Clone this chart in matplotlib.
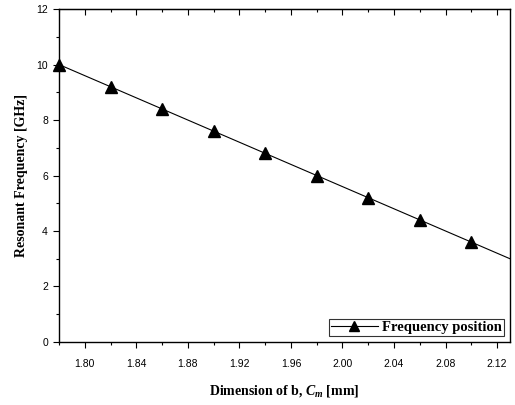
import numpy as np
import matplotlib
matplotlib.use("Agg")
import matplotlib.pyplot as plt
from matplotlib.ticker import MultipleLocator

# data
dim_b = [1.78, 1.82, 1.86, 1.90, 1.94, 1.98, 2.02, 2.06, 2.10]
freq = [10.0, 9.2, 8.4, 7.6, 6.8, 6.0, 5.2, 4.4, 3.6]
xticks = [1.80, 1.84, 1.88, 1.92, 1.96, 2.00, 2.04, 2.08, 2.12]

plt.rcParams["mathtext.fontset"] = "custom"
plt.rcParams["mathtext.it"] = "Liberation Serif:italic:bold"
plt.rcParams["mathtext.rm"] = "Liberation Serif:bold"

fig = plt.figure(figsize=(5.15, 4.05), dpi=100)
ax = fig.add_axes([0.1146, 0.1556, 0.8757, 0.822])

xlim = (1.78, 2.13)
# linear fit drawn across the axis
k, b = np.polyfit(dim_b, freq, 1)
xs = np.array(xlim)
ax.plot(xs, k * xs + b, color="black", lw=0.8)
ax.plot(dim_b, freq, linestyle="none", marker="^", color="black", ms=8, clip_on=False)
ax.plot([], [], color="black", lw=0.8, marker="^", ms=7, label="Frequency position")

ax.set_xlim(*xlim)
ax.set_ylim(0, 12)
ax.set_xticks(xticks)
ax.set_xticklabels(["%.2f" % v for v in xticks])
ax.xaxis.set_minor_locator(MultipleLocator(0.02))
ax.yaxis.set_major_locator(MultipleLocator(2))
ax.yaxis.set_minor_locator(MultipleLocator(1))

ax.tick_params(axis="both", which="both", direction="out", labelsize=7.5, width=0.8)
ax.tick_params(axis="both", which="major", length=4.5)
ax.tick_params(axis="both", which="minor", length=2.5)
ax.tick_params(axis="x", which="both", pad=8)
for t in ax.get_xticklabels() + ax.get_yticklabels():
    t.set_fontfamily("Liberation Sans")

# top ticks point inward
top = ax.secondary_xaxis("top")
top.set_xticks(xticks)
top.xaxis.set_minor_locator(MultipleLocator(0.02))
top.tick_params(which="both", direction="in", labeltop=False, width=0.8)
top.tick_params(which="major", length=4.5)
top.tick_params(which="minor", length=2.5)

for s in ax.spines.values():
    s.set_linewidth(1.0)

ax.set_xlabel("Dimension of b, $C_m$ [mm]", family="Liberation Serif",
              fontweight="bold", fontsize=10, labelpad=10)
ax.set_ylabel("Resonant Frequency [GHz]", family="Liberation Serif",
              fontweight="bold", fontsize=10, labelpad=6)

leg = ax.legend(loc="lower right", prop={"family": "Liberation Serif", "weight": "bold", "size": 10.5},
                fancybox=False, edgecolor="black", borderpad=0.15, handlelength=3.2,
                handletextpad=0.3, borderaxespad=0.4)
leg.get_frame().set_linewidth(0.8)

fig.savefig("out.png", dpi=100)
